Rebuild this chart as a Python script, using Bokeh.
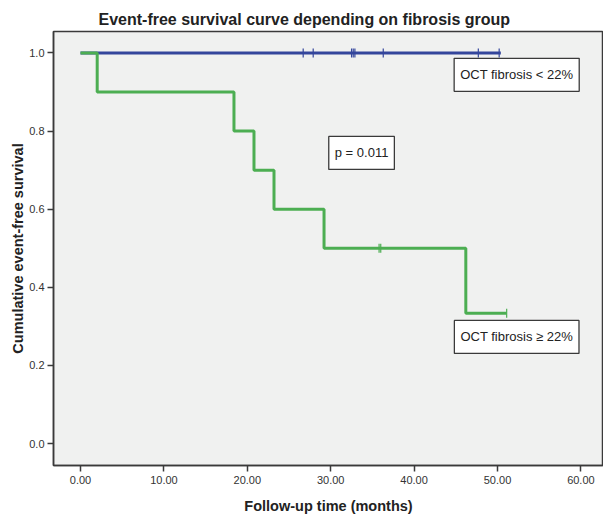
import math
from bokeh.plotting import figure
from bokeh.models import Label, FixedTicker, Range1d
from bokeh.embed import file_html
from bokeh.resources import INLINE

# ---- data ----
x_ticks = [0, 10, 20, 30, 40, 50, 60]
x_tick_labels = ["0.00", "10.00", "20.00", "30.00", "40.00", "50.00", "60.00"]
y_ticks = [0.0, 0.2, 0.4, 0.6, 0.8, 1.0]
y_tick_labels = ["0.0", "0.2", "0.4", "0.6", "0.8", "1.0"]

# OCT fibrosis >= 22% (green)
high_times = [0.0, 2.0, 18.4, 20.8, 23.2, 29.2, 46.2, 51.1]
high_surv = [1.0, 0.9, 0.8, 0.7, 0.6, 0.5, 0.3333, 0.3333]
high_cens_t = [35.8, 36.0, 51.1]
high_cens_s = [0.5, 0.5, 0.3333]

# OCT fibrosis < 22% (blue)
low_times = [0.0, 50.4]
low_surv = [1.0, 1.0]
low_cens_t = [26.7, 27.9, 32.5, 32.7, 32.9, 36.3, 47.7, 50.2]
low_cens_s = [1.0] * 8

p_value_text = "p = 0.011"
label_low = "OCT fibrosis < 22%"
label_high = "OCT fibrosis \u2265 22%"

BLUE = "#34469c"
GREEN = "#4cae52"
DARK = "#3a3a3a"
FONT = "Liberation Sans"

p = figure(width=603, height=516, output_backend="svg", toolbar_location=None,
           x_range=Range1d(-3.24, 62.71), y_range=Range1d(-0.0562, 1.0549),
           min_border_left=53, min_border_right=0, min_border_top=31, min_border_bottom=50,
           background_fill_color="#f0f1f0", border_fill_color="white")

p.title.text = "Event-free survival curve depending on fibrosis group"
p.title.align = "left"
p.title.offset = 45
p.title.text_font = FONT
p.title.text_font_size = "16px"
p.title.text_font_style = "bold"
p.title.text_color = "#222222"
p.title.standoff = 8

p.outline_line_color = DARK
p.outline_line_width = 1.5
p.grid.visible = False

for ax in (p.xaxis[0], p.yaxis[0]):
    ax.axis_line_color = DARK
    ax.axis_line_width = 1.5
    ax.major_tick_line_color = DARK
    ax.major_tick_line_width = 1.5
    ax.major_tick_in = 0
    ax.major_tick_out = 6
    ax.minor_tick_line_color = None
    ax.major_label_text_font = FONT
    ax.major_label_text_font_size = "11px"
    ax.major_label_text_color = "#333333"
    ax.axis_label_text_font = FONT
    ax.axis_label_text_font_size = "14.5px"
    ax.axis_label_text_font_style = "bold"
    ax.axis_label_text_color = "#222222"

p.xaxis.ticker = FixedTicker(ticks=x_ticks)
p.xaxis.major_label_overrides = dict(zip(x_ticks, x_tick_labels))
p.yaxis.ticker = FixedTicker(ticks=y_ticks)
p.yaxis.major_label_overrides = dict(zip(y_ticks, y_tick_labels))
p.xaxis.axis_label = "Follow-up time (months)"
p.yaxis.axis_label = "Cumulative event-free survival"
p.xaxis.major_label_standoff = 4
p.yaxis.major_label_standoff = 3
p.xaxis.axis_label_standoff = 11
p.yaxis.axis_label_standoff = 0

# blue curve
p.step(low_times, low_surv, mode="after", line_color=BLUE, line_width=3)
p.scatter(low_cens_t, low_cens_s, marker="dash", angle=math.pi / 2, size=9,
          line_color=BLUE, line_width=1.2)
# green curve
p.step(high_times, high_surv, mode="after", line_color=GREEN, line_width=3)
p.scatter(high_cens_t, high_cens_s, marker="dash", angle=math.pi / 2, size=9,
          line_color=GREEN, line_width=1.2)

def box(x, y, text):
    return Label(x=x, y=y, text=text, text_align="center", text_baseline="middle",
                 text_font=FONT, text_font_size="13px", text_color="#222222",
                 background_fill_color="white", border_line_color=DARK,
                 border_line_width=1.3, padding=dict(x=6, y=9))

p.add_layout(box(52.3, 0.944, label_low))
p.add_layout(box(33.7, 0.744, p_value_text))
p.add_layout(box(52.3, 0.273, label_high))

open("out.html", "w").write(file_html(p, INLINE))
